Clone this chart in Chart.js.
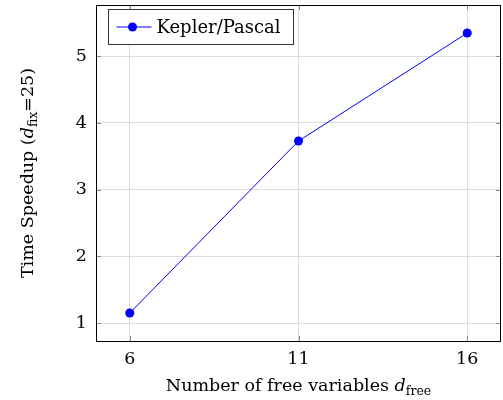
<!DOCTYPE html>
<html>
<head>
<meta charset="utf-8">
<script src="https://cdn.jsdelivr.net/npm/chart.js@4"></script>
<style>
  body { margin: 0; background: #fff; }
  #wrap { width: 503px; height: 400px; position: relative; }
</style>
</head>
<body>
<div id="wrap"><canvas id="speedupChart"></canvas></div>
<script>
const freeVars = [6, 11, 16];
const speedup = [1.15, 3.73, 5.35];
const xTicks = [6, 11, 16];
const yTicks = [1, 2, 3, 4, 5];
const seriesLabel = 'Kepler/Pascal';

const SERIF = '"DejaVu Serif", "Liberation Serif", serif';
const FS = 17.5;

// draws a line of text made of parts (normal, italic, subscript)
const drawParts = (ctx, parts, cx, cy) => {
    let total = 0;
    parts.forEach(p => {
        ctx.font = p.font;
        p.w = ctx.measureText(p.text).width;
        total += p.w;
    });
    let x = cx - total / 2;
    ctx.textAlign = 'left';
    ctx.textBaseline = 'alphabetic';
    parts.forEach(p => {
        ctx.font = p.font;
        ctx.fillText(p.text, x, cy + (p.dy || 0));
        x += p.w;
    });
};

const decorations = {
    id: 'decorations',
    afterDraw(chart) {
        const ctx = chart.ctx;
        const area = chart.chartArea;
        const xs = chart.scales.x;
        const ys = chart.scales.y;
        ctx.save();

        // inner tick marks on all four sides
        ctx.strokeStyle = '#8c8c8c';
        ctx.lineWidth = 1;
        ctx.beginPath();
        xTicks.forEach(v => {
            const px = Math.round(xs.getPixelForValue(v)) + 0.5;
            ctx.moveTo(px, area.bottom); ctx.lineTo(px, area.bottom - 5);
            ctx.moveTo(px, area.top); ctx.lineTo(px, area.top + 5);
        });
        yTicks.forEach(v => {
            const py = Math.round(ys.getPixelForValue(v)) + 0.5;
            ctx.moveTo(area.left, py); ctx.lineTo(area.left + 5, py);
            ctx.moveTo(area.right, py); ctx.lineTo(area.right - 5, py);
        });
        ctx.stroke();

        // frame
        ctx.strokeStyle = '#000';
        ctx.strokeRect(Math.round(area.left) + 0.5, Math.round(area.top) + 0.5,
            Math.round(area.right - area.left) - 1, Math.round(area.bottom - area.top));

        // legend
        const lx = 108.5, ly = 9.5, lw = 185, lh = 35;
        ctx.fillStyle = '#fff';
        ctx.fillRect(lx, ly, lw, lh);
        ctx.strokeStyle = '#333';
        ctx.strokeRect(lx, ly, lw, lh);
        const my = ly + lh / 2;
        ctx.strokeStyle = '#0000ff';
        ctx.beginPath();
        ctx.moveTo(lx + 8, my); ctx.lineTo(lx + 43, my);
        ctx.stroke();
        ctx.fillStyle = '#0000ff';
        ctx.beginPath();
        ctx.arc(lx + 24, my, 4.5, 0, Math.PI * 2);
        ctx.fill();
        ctx.fillStyle = '#000';
        ctx.font = '18px ' + SERIF;
        ctx.textAlign = 'left';
        ctx.textBaseline = 'middle';
        ctx.fillText(chart.data.datasets[0].label, lx + 48, my + 1);

        // axis titles
        const big = FS + 'px ' + SERIF;
        const ital = 'italic ' + FS + 'px ' + SERIF;
        const small = '12.5px ' + SERIF;
        ctx.fillStyle = '#000';
        drawParts(ctx, [
            { text: 'Number of free variables ', font: big },
            { text: 'd', font: ital },
            { text: 'free', font: small, dy: 4 }
        ], (area.left + area.right) / 2, 391);

        ctx.translate(33, (area.top + area.bottom) / 2);
        ctx.rotate(-Math.PI / 2);
        drawParts(ctx, [
            { text: 'Time Speedup (', font: big },
            { text: 'd', font: ital },
            { text: 'fix', font: small, dy: 4 },
            { text: '=25)', font: big }
        ], 0, 0);
        ctx.restore();
    }
};

const ctx = document.getElementById('speedupChart').getContext('2d');
const speedupChart = new Chart(ctx, {
    type: 'line',
    data: {
        datasets: [{
            label: seriesLabel,
            data: freeVars.map((v, i) => ({ x: v, y: speedup[i] })),
            borderColor: '#0000ff',
            backgroundColor: '#0000ff',
            borderWidth: 1,
            pointRadius: 4.5,
            pointHoverRadius: 4.5,
            pointBorderWidth: 0,
            tension: 0
        }]
    },
    options: {
        responsive: true,
        maintainAspectRatio: false,
        animation: false,
        layout: { autoPadding: false, padding: { top: 5, right: 2, left: 0, bottom: 0 } },
        plugins: {
            legend: { display: false },
            tooltip: { enabled: false }
        },
        scales: {
            x: {
                type: 'linear',
                min: 5,
                max: 17,
                afterBuildTicks: scale => { scale.ticks = xTicks.map(v => ({ value: v })); },
                afterFit: scale => {
                    scale.height = 59;
                    scale.paddingLeft = 0;
                    scale.paddingRight = 0;
                },
                grid: { color: '#dcdcdc', drawTicks: false },
                border: { display: false },
                ticks: {
                    color: '#000',
                    padding: 8,
                    font: { family: SERIF, size: FS }
                }
            },
            y: {
                min: 0.73,
                max: 5.77,
                afterBuildTicks: scale => { scale.ticks = yTicks.map(v => ({ value: v })); },
                afterFit: scale => {
                    scale.width = 96;
                    scale.paddingTop = 0;
                    scale.paddingBottom = 0;
                },
                grid: { color: '#dcdcdc', drawTicks: false },
                border: { display: false },
                ticks: {
                    color: '#000',
                    padding: 9,
                    font: { family: SERIF, size: FS }
                }
            }
        }
    },
    plugins: [decorations]
});
</script>
</body>
</html>
